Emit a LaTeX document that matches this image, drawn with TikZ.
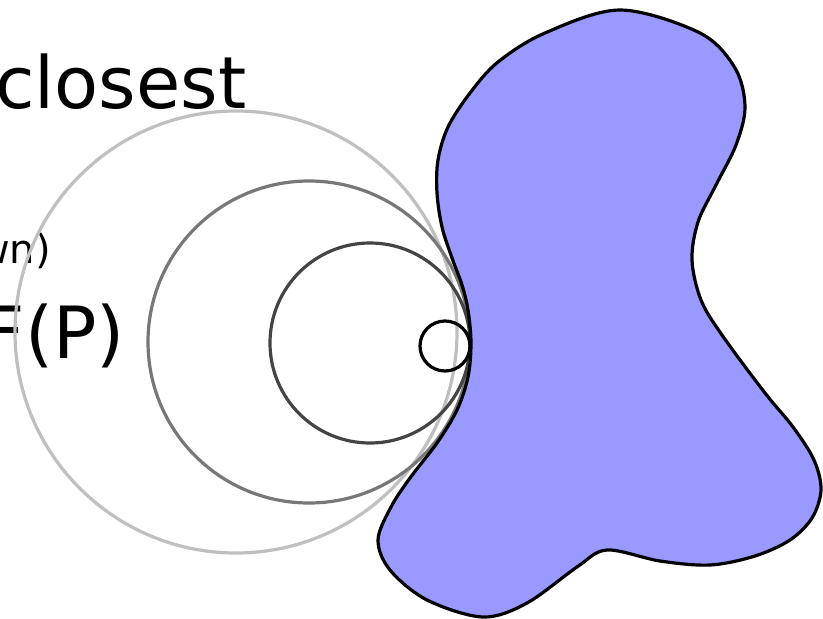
\documentclass[tikz,border=0pt]{standalone}
\usepackage{fontspec}
\setmainfont{DejaVu Sans}
\begin{document}
\begin{tikzpicture}[x=1pt,y=-1pt,
  ring/.style={line width=3.2pt},
  bigtext/.style={font=\fontsize{72}{80}\selectfont, inner sep=0pt, text=black},
  smalltext/.style={font=\fontsize{40}{46}\selectfont, inner sep=0pt, text=black},
  blobstyle/.style={fill=blobfill, draw=black, line width=3.2pt, line join=round}]
\definecolor{blobfill}{HTML}{9999FF}
\definecolor{lightring}{HTML}{BFBFBF}
\definecolor{midring}{HTML}{777777}
\definecolor{darkring}{HTML}{444444}
\useasboundingbox (0,0) rectangle (823,619);
\fill[white] (0,0) rectangle (823,619);
% texts
\node[bigtext, anchor=base west] (closest) at (-5,108) {closest};
\node[smalltext, anchor=base east] (shown) at (51,263) {wn)};
\node[bigtext, anchor=base east] (fp) at (125,358) {F(P)};
% circles
\draw[ring, lightring] (236,332) circle[radius=221pt];
\draw[ring, midring] (309,342) circle[radius=161pt];
\draw[ring, darkring] (370,343) circle[radius=100pt];
% blob
\draw[blobstyle] plot[smooth cycle, tension=0.55] coordinates {
 (620,10) (700,33) (735,68) (745,107) (736,145) (716,185) (698,222) (692,260) (701,300) (722,335)
 (765,393) (793,427) (814,460) (821,490) (812,518) (790,540) (755,556) (710,565) (660,561) (607,550)
 (577,567) (527,603) (483,617) (427,600) (390,570) (378,540) (391,507) (410,478) (437,443) (457,410)
 (468,377) (471,343) (468,310) (462,285) (452,258) (442,227) (437,193) (438,160) (448,127) (470,93)
 (498,62) (545,33) };
\draw[line width=3.2pt, black] (445,346) circle[radius=25pt];
\end{tikzpicture}
\end{document}
